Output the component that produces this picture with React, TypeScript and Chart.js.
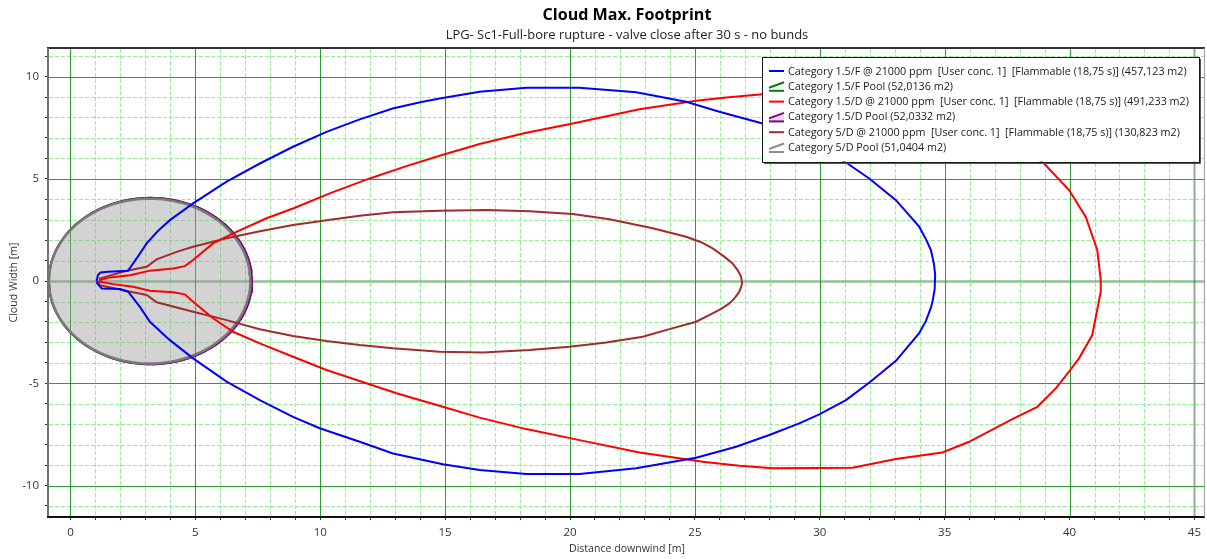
import React, { useEffect, useRef } from 'react';
import { Chart, registerables } from 'chart.js';

Chart.register(...registerables);

type Pt = [number, number];

const FAMILY = '"Open Sans", "Noto Sans", "DejaVu Sans", sans-serif';

const chartTitle = 'Cloud Max. Footprint';
const chartSubtitle = 'LPG- Sc1-Full-bore rupture - valve close after 30 s - no bunds';
const xAxisTitle = 'Distance downwind [m]';
const yAxisTitle = 'Cloud Width [m]';

const xTickValues = [
  0, 1, 2, 3, 4, 5, 6, 7, 8, 9, 10, 11, 12, 13, 14, 15, 16, 17, 18, 19, 20, 21, 22, 23,
  24, 25, 26, 27, 28, 29, 30, 31, 32, 33, 34, 35, 36, 37, 38, 39, 40, 41, 42, 43, 44, 45,
];
const yTickValues = [-11, -10, -9, -8, -7, -6, -5, -4, -3, -2, -1, 0, 1, 2, 3, 4, 5, 6, 7, 8, 9, 10, 11];

// Category 1.5/F @ 21000 ppm
const cat15F: Pt[] = [
  [1.05, 0], [1.1, 0.3], [1.2, 0.42], [1.5, 0.45], [2.3, 0.5], [2.65, 1.11], [3.05, 1.84], [3.5, 2.45],
  [3.98, 2.98], [4.91, 3.8], [6.25, 4.86], [7.58, 5.75], [8.91, 6.57], [10.25, 7.3], [11.58, 7.91],
  [12.9, 8.44], [14.0, 8.75], [14.78, 8.93], [16.38, 9.26], [18.25, 9.45], [20.38, 9.45], [22.65, 9.23],
  [24.65, 8.77], [25.98, 8.28], [27.71, 7.71], [29.5, 6.85], [31.11, 5.75], [31.98, 5.02], [33.05, 3.96],
  [33.98, 2.66], [34.25, 2.05], [34.45, 1.52], [34.57, 0.85], [34.62, 0.3], [34.6, -0.4], [34.53, -0.9],
  [34.45, -1.3], [34.25, -1.95], [33.98, -2.55], [33.05, -3.9],
  [32.0, -4.95], [31.05, -5.82], [29.98, -6.52], [29.18, -6.96], [27.98, -7.53], [26.65, -8.1],
  [25.05, -8.64], [22.65, -9.16], [20.38, -9.44], [18.25, -9.44], [16.38, -9.24], [14.91, -8.96],
  [12.91, -8.43], [11.58, -7.86], [9.98, -7.2], [8.91, -6.64], [7.58, -5.82], [6.25, -4.92], [4.91, -3.78],
  [3.98, -2.89], [3.18, -1.99], [2.78, -1.26], [2.31, -0.52], [1.98, -0.39], [1.25, -0.36], [1.07, -0.11],
  [1.05, 0],
];

// Category 1.5/D @ 21000 ppm
const cat15D: Pt[] = [
  [1.15, 0], [1.18, 0.05], [1.58, 0.18], [2.38, 0.29], [3.18, 0.51], [4.11, 0.62], [4.58, 0.73], [4.91, 1.03],
  [5.71, 1.84], [6.51, 2.33], [7.85, 3.07], [8.91, 3.55], [10.38, 4.29], [11.98, 5.02], [13.45, 5.62],
  [14.78, 6.13], [16.38, 6.7], [18.25, 7.25], [20.11, 7.71], [22.78, 8.4], [25.05, 8.82], [26.25, 8.98],
  [27.71, 9.14], [29.5, 9.2], [31.3, 9.15], [33.0, 8.8], [35.0, 8.3], [36.5, 7.6], [38.0, 6.6],
  [38.98, 5.75], [39.98, 4.45], [40.65, 3.14], [41.11, 1.52], [41.25, 0.05], [41.25, -0.52], [40.91, -2.64],
  [40.38, -3.78], [39.98, -4.43], [39.45, -5.25], [38.71, -6.15], [37.71, -6.75], [35.98, -7.86],
  [34.91, -8.38], [33.05, -8.7], [31.31, -9.13], [28.11, -9.16], [26.78, -9.03], [25.31, -8.84],
  [24.65, -8.72], [22.78, -8.38], [20.38, -7.78], [18.25, -7.24], [16.38, -6.68], [14.91, -6.15],
  [13.05, -5.49], [11.85, -5.0], [10.25, -4.35], [8.91, -3.7], [7.58, -3.05], [6.51, -2.48], [5.71, -1.82],
  [4.91, -1.01], [4.58, -0.65], [4.11, -0.55], [3.18, -0.47], [2.51, -0.28], [1.71, -0.15], [1.18, -0.03],
  [1.15, 0],
];

// Category 5/D @ 21000 ppm
const cat5D: Pt[] = [
  [1.15, 0], [1.18, 0.13], [2.25, 0.5], [3.05, 0.7], [3.45, 1.06], [4.25, 1.43], [4.91, 1.68], [6.25, 2.09],
  [7.58, 2.44], [8.91, 2.74], [10.25, 2.98], [11.58, 3.19], [12.91, 3.36], [14.78, 3.44], [16.65, 3.47],
  [18.38, 3.42], [20.11, 3.28], [21.58, 3.02], [23.31, 2.58], [24.65, 2.17], [25.25, 1.9], [25.71, 1.6],
  [26.15, 1.22], [26.51, 0.86], [26.73, 0.5], [26.85, 0.21], [26.89, -0.1], [26.85, -0.3], [26.78, -0.52],
  [26.6, -0.82], [26.38, -1.09], [26.05, -1.36], [25.71, -1.58], [25.05, -1.99], [23.98, -2.35],
  [22.91, -2.72], [21.45, -3.0], [19.98, -3.21], [18.38, -3.37], [16.51, -3.49], [14.78, -3.46],
  [12.91, -3.29], [11.58, -3.13], [10.25, -2.93], [8.91, -2.69], [7.58, -2.36], [6.25, -1.91], [4.91, -1.5],
  [3.45, -1.04], [3.05, -0.68], [2.25, -0.49], [1.18, -0.2], [1.15, 0],
];

// Pools: [1.5/F, 1.5/D, 5/D]
const poolCentreX = [3.2, 3.2, 3.17];
const poolAreas = [52.0136, 52.0332, 51.0404];

const legendLabels = [
  'Category 1.5/F @ 21000 ppm  [User conc. 1]  [Flammable (18,75 s)] (457,123 m2)',
  'Category 1.5/F Pool (52,0136 m2)',
  'Category 1.5/D @ 21000 ppm  [User conc. 1]  [Flammable (18,75 s)] (491,233 m2)',
  'Category 1.5/D Pool (52,0332 m2)',
  'Category 5/D @ 21000 ppm  [User conc. 1]  [Flammable (18,75 s)] (130,823 m2)',
  'Category 5/D Pool (51,0404 m2)',
];
const legendColors = ['#0000ff', '#008000', '#ff0000', '#800080', '#a52a2a', '#8c8c8c'];
const legendIsPool = [false, true, false, true, false, true];

function toXY(pts: Pt[]) {
  return pts.map(([x, y]) => ({ x, y }));
}

function poolOutline(cx: number, area: number) {
  const r = Math.sqrt(area / Math.PI);
  const n = 144;
  const out: { x: number; y: number }[] = [];
  for (let i = 0; i <= n; i++) {
    const t = (i / n) * Math.PI * 2;
    out.push({ x: cx + r * Math.cos(t), y: r * Math.sin(t) });
  }
  return out;
}

function fitSize(ctx: CanvasRenderingContext2D, text: string, weight: string, target: number) {
  ctx.font = `${weight} 20px ${FAMILY}`;
  const w = ctx.measureText(text).width;
  return (20 * target) / w;
}

const customPlugin = {
  id: 'customDraw',
  beforeDatasetsDraw(chart: any) {
    const { ctx, chartArea: a } = chart;
    const xs = chart.scales.x;
    const ys = chart.scales.y;
    ctx.save();
    ctx.beginPath();
    ctx.rect(a.left, a.top, a.right - a.left, a.bottom - a.top);
    ctx.clip();

    const vline = (v: number) => {
      const px = Math.round(xs.getPixelForValue(v)) + 0.5;
      ctx.beginPath();
      ctx.moveTo(px, a.top);
      ctx.lineTo(px, a.bottom);
      ctx.stroke();
    };
    const hline = (v: number) => {
      const py = Math.round(ys.getPixelForValue(v)) + 0.5;
      ctx.beginPath();
      ctx.moveTo(a.left, py);
      ctx.lineTo(a.right, py);
      ctx.stroke();
    };

    // minor grid
    ctx.lineWidth = 1;
    ctx.setLineDash([4, 2]);
    ctx.strokeStyle = 'rgb(156,234,156)';
    xTickValues.forEach((v) => { if (v % 5 !== 0) vline(v); });
    yTickValues.forEach((v) => { if (v % 5 !== 0) hline(v); });

    // major grid
    ctx.setLineDash([]);
    ctx.strokeStyle = 'rgba(10,140,10,0.85)';
    xTickValues.forEach((v) => { if (v % 5 === 0 && v !== 45) vline(v); });
    yTickValues.forEach((v) => { if (v % 5 === 0 && v !== 0) hline(v); });
    ctx.strokeStyle = 'rgba(120,150,120,0.8)';
    ctx.lineWidth = 2;
    vline(45);
    ctx.strokeStyle = 'rgba(60,140,60,0.55)';
    ctx.lineWidth = 2.5;
    hline(0);

    // pool fill (5/D pool dataset is index 3)
    const meta = chart.getDatasetMeta(3);
    ctx.beginPath();
    meta.data.forEach((p: any, i: number) => {
      if (i === 0) ctx.moveTo(p.x, p.y);
      else ctx.lineTo(p.x, p.y);
    });
    ctx.closePath();
    ctx.fillStyle = 'rgba(150,150,150,0.42)';
    ctx.fill();
    ctx.restore();
  },
  afterDraw(chart: any) {
    const { ctx, chartArea: a } = chart;
    ctx.save();

    // frame
    ctx.lineWidth = 2;
    ctx.strokeStyle = '#333333';
    ctx.beginPath();
    ctx.moveTo(a.left - 2, a.top - 1);
    ctx.lineTo(a.right, a.top - 1);
    ctx.stroke();
    ctx.strokeStyle = '#707070';
    ctx.beginPath();
    ctx.moveTo(a.left - 1, a.top - 1);
    ctx.lineTo(a.left - 1, a.bottom + 1);
    ctx.stroke();
    ctx.strokeStyle = '#111111';
    ctx.beginPath();
    ctx.moveTo(a.left - 2, a.bottom + 1);
    ctx.lineTo(a.right, a.bottom + 1);
    ctx.stroke();
    ctx.strokeStyle = '#9a9a9a';
    ctx.lineWidth = 1;
    ctx.beginPath();
    ctx.moveTo(a.right - 0.5, a.top - 1);
    ctx.lineTo(a.right - 0.5, a.bottom + 1);
    ctx.stroke();

    // titles
    ctx.fillStyle = '#000000';
    ctx.textAlign = 'center';
    ctx.textBaseline = 'middle';
    const cx = (a.left + a.right) / 2;
    const ts = fitSize(ctx, chartTitle, 'bold', 169);
    ctx.font = `bold ${ts}px ${FAMILY}`;
    ctx.fillText(chartTitle, cx, 15);
    const ss = fitSize(ctx, chartSubtitle, 'normal', 363);
    ctx.font = `normal ${ss}px ${FAMILY}`;
    ctx.fillStyle = '#222222';
    ctx.fillText(chartSubtitle, cx, 35);

    // axis titles
    const xs = fitSize(ctx, xAxisTitle, 'normal', 116);
    ctx.font = `normal ${xs}px ${FAMILY}`;
    ctx.fillStyle = '#333333';
    ctx.fillText(xAxisTitle, cx, 549);
    ctx.save();
    ctx.translate(14, (a.top + a.bottom) / 2);
    ctx.rotate(-Math.PI / 2);
    ctx.fillText(yAxisTitle, 0, 0);
    ctx.restore();

    // legend
    const ls = fitSize(ctx, legendLabels[0], 'normal', 399);
    const font = `normal ${ls}px ${FAMILY}`;
    ctx.font = font;
    let maxW = 0;
    legendLabels.forEach((t) => { maxW = Math.max(maxW, ctx.measureText(t).width); });
    const rowH = 15.3;
    const boxRight = a.right - 6;
    const boxTop = a.top + 8;
    const boxW = 7 + 15 + 4 + maxW + 10;
    const boxH = 14 + rowH * 5 + 14;
    const boxLeft = boxRight - boxW;
    ctx.fillStyle = '#ffffff';
    ctx.fillRect(boxLeft, boxTop, boxW, boxH);
    ctx.strokeStyle = '#1a1a1a';
    ctx.lineWidth = 1;
    ctx.strokeRect(Math.round(boxLeft) + 0.5, Math.round(boxTop) + 0.5, Math.round(boxW), Math.round(boxH));
    ctx.strokeStyle = '#555555';
    ctx.beginPath();
    ctx.moveTo(Math.round(boxLeft + boxW) + 1.5, Math.round(boxTop) + 2);
    ctx.lineTo(Math.round(boxLeft + boxW) + 1.5, Math.round(boxTop + boxH) + 1.5);
    ctx.lineTo(Math.round(boxLeft) + 2, Math.round(boxTop + boxH) + 1.5);
    ctx.stroke();

    ctx.textAlign = 'left';
    ctx.textBaseline = 'middle';
    legendLabels.forEach((t, i) => {
      const y = boxTop + 14 + i * rowH;
      const ix = boxLeft + 7;
      const col = legendColors[i];
      if (legendIsPool[i]) {
        if (i === 3) {
          ctx.fillStyle = 'rgba(128,0,128,0.15)';
          ctx.beginPath();
          ctx.moveTo(ix, y + 1.5);
          ctx.lineTo(ix + 15, y - 4);
          ctx.lineTo(ix + 15, y + 4);
          ctx.lineTo(ix, y + 4);
          ctx.closePath();
          ctx.fill();
        }
        ctx.strokeStyle = col;
        ctx.lineWidth = 2;
        ctx.beginPath();
        ctx.moveTo(ix + 15, y - 4);
        ctx.lineTo(ix, y + 1.5);
        ctx.stroke();
        ctx.beginPath();
        ctx.moveTo(ix, y + 4.5);
        ctx.lineTo(ix + 15, y + 4.5);
        ctx.stroke();
      } else {
        ctx.strokeStyle = col;
        ctx.lineWidth = 2;
        ctx.beginPath();
        ctx.moveTo(ix, y);
        ctx.lineTo(ix + 15, y);
        ctx.stroke();
      }
      ctx.fillStyle = '#1a1a1a';
      ctx.font = font;
      ctx.fillText(t, ix + 19, y + 0.5);
    });
    ctx.restore();
  },
};

export default function App() {
  const canvasRef = useRef<HTMLCanvasElement | null>(null);

  useEffect(() => {
    const canvas = canvasRef.current;
    if (!canvas) return;
    const lineDs = (label: string, data: { x: number; y: number }[], color: string, width: number) => ({
      label,
      data,
      showLine: true,
      borderColor: color,
      backgroundColor: color,
      borderWidth: width,
      pointRadius: 0,
      pointHoverRadius: 0,
      tension: 0,
      fill: false,
    });
    const chart = new Chart(canvas, {
      type: 'scatter',
      data: {
        datasets: [
          lineDs(legendLabels[0], toXY(cat15F), '#0000ff', 2),
          lineDs(legendLabels[2], toXY(cat15D), '#ff0000', 2),
          lineDs(legendLabels[4], toXY(cat5D), '#a52a2a', 2),
          lineDs(legendLabels[5], poolOutline(poolCentreX[2], poolAreas[2]), '#7a7a7a', 2.5),
          lineDs(legendLabels[3], poolOutline(poolCentreX[1], poolAreas[1]), '#800080', 2),
          lineDs(legendLabels[1], poolOutline(poolCentreX[0], poolAreas[0]), '#008000', 2),
        ],
      },
      options: {
        animation: false,
        responsive: false,
        devicePixelRatio: 1,
        events: [],
        layout: { padding: { top: 49, right: 1, bottom: 0, left: 0 } },
        plugins: {
          legend: { display: false },
          title: { display: false },
          tooltip: { enabled: false },
        },
        scales: {
          x: {
            type: 'linear',
            min: -0.86,
            max: 45.42,
            afterBuildTicks: (scale: any) => {
              scale.ticks = xTickValues.map((value) => ({ value }));
            },
            afterFit: (scale: any) => {
              scale.height = 43;
            },
            ticks: {
              autoSkip: false,
              maxRotation: 0,
              padding: 6,
              color: '#333333',
              font: { family: FAMILY, size: 11.5 },
              callback: (v: any) => (Number(v) % 5 === 0 ? String(v) : ''),
            },
            grid: {
              display: true,
              drawOnChartArea: false,
              drawTicks: true,
              tickLength: 4,
              tickColor: '#333333',
              tickWidth: 1,
            },
            border: { display: false },
          },
          y: {
            type: 'linear',
            min: -11.49,
            max: 11.35,
            afterBuildTicks: (scale: any) => {
              scale.ticks = yTickValues.map((value) => ({ value }));
            },
            afterFit: (scale: any) => {
              scale.width = 49;
            },
            ticks: {
              autoSkip: false,
              padding: 6,
              color: '#333333',
              font: { family: FAMILY, size: 11.5 },
              callback: (v: any) => (Number(v) % 5 === 0 ? String(v) : ''),
            },
            grid: {
              display: true,
              drawOnChartArea: false,
              drawTicks: true,
              tickLength: 4,
              tickColor: '#333333',
              tickWidth: 1,
            },
            border: { display: false },
          },
        },
      },
      plugins: [customPlugin],
    } as any);
    return () => chart.destroy();
  }, []);

  return (
    <div style={{ position: 'fixed', left: 0, top: 0, width: 1207, height: 559, background: '#ffffff' }}>
      <canvas ref={canvasRef} width={1207} height={559} style={{ width: 1207, height: 559, display: 'block' }} />
    </div>
  );
}
